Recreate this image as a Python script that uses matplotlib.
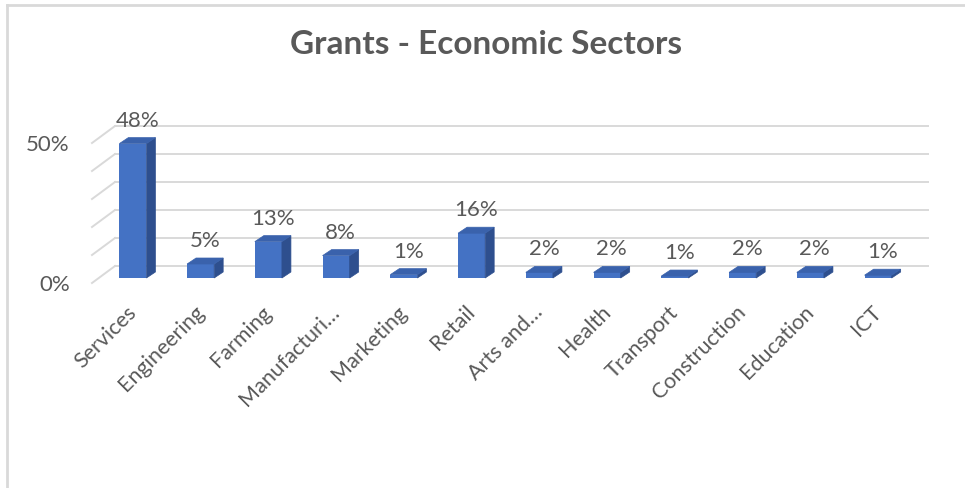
import matplotlib
matplotlib.use("Agg")
import matplotlib.pyplot as plt
import matplotlib.transforms as mtransforms
from matplotlib.patches import Polygon
from matplotlib.lines import Line2D

categories = ["Services", "Engineering", "Farming", "Manufacturi…", "Marketing",
              "Retail", "Arts and…", "Health", "Transport", "Construction",
              "Education", "ICT"]
values = [0.48, 0.05, 0.13, 0.08, 0.012, 0.16, 0.02, 0.02, 0.007, 0.02, 0.02, 0.01]
ytick_vals = [0.0, 0.5]
ytick_labels = ["0%", "50%"]
grid_vals = [0.0, 0.1, 0.2, 0.3, 0.4, 0.5]
title = "Grants - Economic Sectors"

plt.rcParams['font.family'] = ['Lato', 'DejaVu Sans']
TXT = '#595959'
GRID = '#D9D9D9'
FRONT = '#4472C4'
SIDE = '#2E4F8E'
TOP = '#3A62AC'

W, H = 965, 488
fig = plt.figure(figsize=(W / 100, H / 100), dpi=100)
ax = fig.add_axes([92 / W, (H - 283) / H, (905 - 92) / W, 140 / H])
ax.set_xlim(-0.5, len(categories) - 0.5)
ax.set_ylim(0, 0.5)
for s in ax.spines.values():
    s.set_visible(False)
ax.patch.set_alpha(0)

# back wall offset (pixels)
BX, BY = 23, 17
back_tr = mtransforms.offset_copy(ax.transData, fig=fig, x=BX, y=BY, units='dots')
# bar front plane offset
FX, FY = 7, 5
bar_tr = mtransforms.offset_copy(ax.transData, fig=fig, x=FX, y=FY, units='dots')
DX, DY = 9, 6
BW = 0.4

# back-wall gridlines and side-wall diagonals
x0, x1 = -0.5, len(categories) - 0.5
for g in grid_vals:
    ax.plot([x0, x1], [g, g], color=GRID, lw=1.4, transform=back_tr, zorder=1, clip_on=False)
    p0 = ax.transData.transform((x0, g))
    fig.add_artist(Line2D([p0[0], p0[0] + BX], [p0[1], p0[1] + BY], color=GRID, lw=1.4,
                          transform=None, zorder=1))

# bars: front faces through ax.bar, depth faces derived from the same values
xs = list(range(len(categories)))
ax.bar(xs, values, width=BW, color=FRONT, transform=bar_tr, zorder=3, clip_on=False)
for i, v in zip(xs, values):
    xl, yb = ax.transData.transform((i - BW / 2, 0))
    xr, yt = ax.transData.transform((i + BW / 2, v))
    xl += FX; xr += FX; yb += FY; yt += FY
    top = Polygon([[xl, yt], [xr, yt], [xr + DX, yt + DY], [xl + DX, yt + DY]],
                  closed=True, facecolor=TOP, edgecolor=TOP, lw=0.5, transform=None, zorder=3)
    side = Polygon([[xr, yb], [xr, yt], [xr + DX, yt + DY], [xr + DX, yb + DY]],
                   closed=True, facecolor=SIDE, edgecolor=SIDE, lw=0.5, transform=None, zorder=3)
    fig.add_artist(side)
    fig.add_artist(top)
    ax.annotate(f"{v:.0%}", xy=(i, v), xycoords=bar_tr, xytext=(DX / 2, 17),
                textcoords='offset pixels', ha='center', va='baseline',
                fontsize=16, color=TXT, zorder=5, annotation_clip=False)

# y tick labels
ax.set_yticks(ytick_vals)
ax.set_yticklabels(ytick_labels, fontsize=16, color=TXT)
ax.tick_params(axis='y', length=0, pad=16)
ax.set_xticks([])

# category labels
lab_tr = mtransforms.offset_copy(ax.transData, fig=fig, x=0, y=-19, units='dots')
for i, c in zip(xs, categories):
    ax.text(i, 0, c, transform=lab_tr, rotation=45, rotation_mode='anchor',
            ha='right', va='top', fontsize=15.5, color=TXT, clip_on=False)

fig.text(486 / W, 1 - 45 / H, title, ha='center', va='center', fontsize=24,
         fontweight='bold', color=TXT)

# chart frame (top and left edges visible)
fig.add_artist(Line2D([6.5, W], [H - 4.5, H - 4.5], color=GRID, lw=2, transform=None))
fig.add_artist(Line2D([6.5, 6.5], [0, H - 4.5], color=GRID, lw=2, transform=None))

fig.savefig("out.png", dpi=100, facecolor='white')
